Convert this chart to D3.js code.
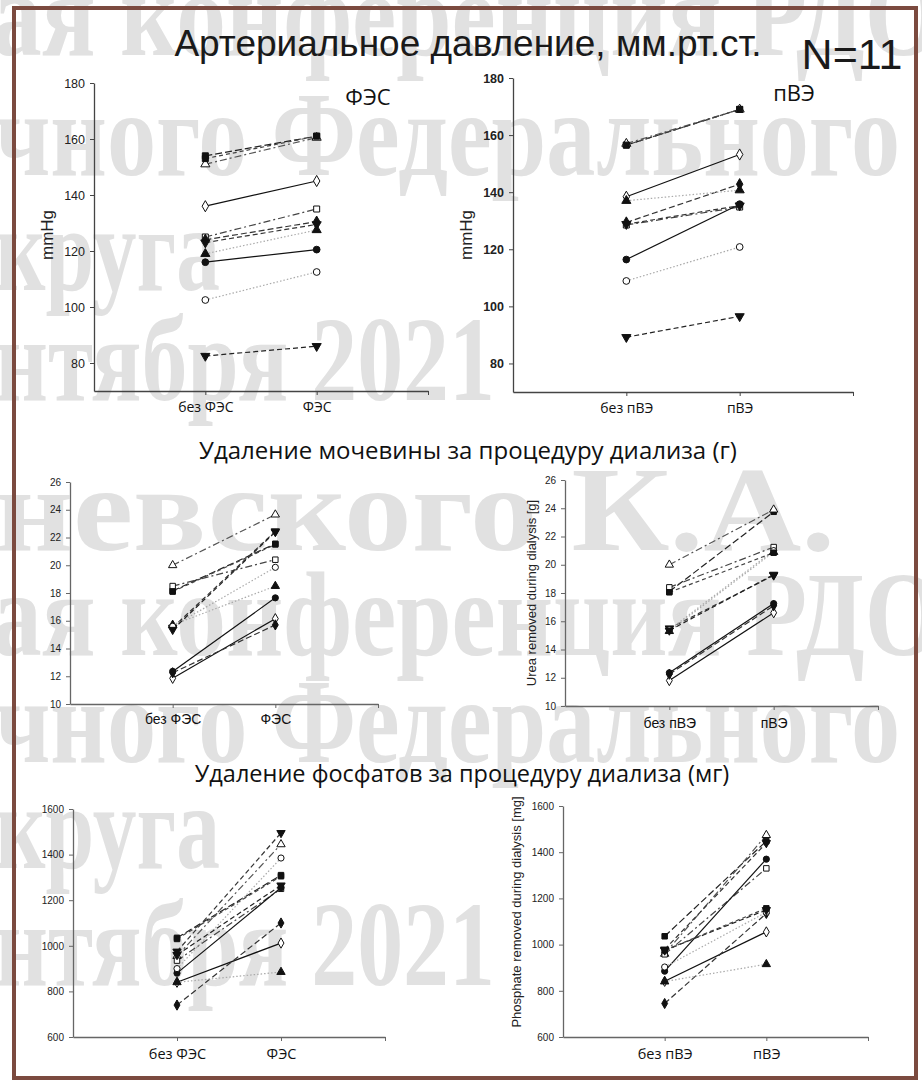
<!DOCTYPE html>
<html>
<head>
<meta charset="utf-8">
<script src="https://cdn.jsdelivr.net/npm/d3@7"></script>
<style>
  body { margin: 0; background: #fff; }
  svg { display: block; }
</style>
</head>
<body>
<div id="chart"></div>
<script>
/**
 * CONSTANTS AND GLOBALS
 * */
const width = 922,
  height = 1081;

// watermark text rows (only the visible tails of the lines)
const watermarkRows = [
  "ая конференция РДО",
  "чного Федерального",
  "круга",
  "нтября 2021",
  "невского К.А.",
  "ая конференция РДО",
  "чного Федерального",
  "круга",
  "нтября 2021"
];

// titles
const mainTitle = "Артериальное давление, мм.рт.ст.";
const sampleSize = "N=11";
const ureaTitle = "Удаление мочевины за процедуру диализа (г)";
const phosTitle = "Удаление фосфатов за процедуру диализа (мг)";

// categories
const groupsFES = ["без ФЭС", "ФЭС"];
const groupsPVE = ["без пВЭ", "пВЭ"];

// tick values
const bpTicks = [80, 100, 120, 140, 160, 180];
const ureaTicks = [10, 12, 14, 16, 18, 20, 22, 24, 26];
const phosTicks = [600, 800, 1000, 1200, 1400, 1600];

// 11 patients, same order in every array
const bpFesBefore = [154, 151, 136, 125, 124, 123, 119, 116, 102.5, 82.5, 153];
const bpFesAfter = [161, 160.5, 145, 135, 130.5, 129.5, 127.5, 120.5, 112.5, 86, 161];

const bpPveBefore = [156.5, 157, 138.4, 128.5, 129.4, 128.8, 137, 116.4, 108.9, 89.2, 156.5];
const bpPveAfter = [169, 169, 153.2, 134.8, 142.8, 135.3, 140.7, 135.8, 120.8, 96.5, 169];

const ureaFesBefore = [18.15, 20, 11.85, 18.5, 12.25, 15.5, 15.7, 12.35, 15.6, 15.35, 18.1];
const ureaFesAfter = [21.55, 23.65, 16.15, 20.4, 15.7, 22.45, 18.5, 17.65, 19.85, 22.4, 21.5];

const ureaPveBefore = [18.1, 20, 11.8, 18.4, 12.25, 15.5, 15.3, 12.35, 15.4, 15.35, 18.05];
const ureaPveAfter = [23.75, 23.9, 16.6, 21.25, 17.1, 19.25, 20.9, 17.25, 21, 19.3, 20.85];

const phosFesBefore = [1035, 955, 840, 935, 740, 975, 840, 880, 900, 960, 1030];
const phosFesAfter = [1310, 1445, 1012, 1250, 1100, 1495, 885, 1255, 1385, 1265, 1305];

const phosPveBefore = [1036, 960, 841, 958, 745, 979, 840, 885, 903, 975, 975];
const phosPveAfter = [1448, 1474, 1055, 1330, 1135, 1440, 915, 1370, 1140, 1150, 1157];

// marker / line style for each patient
const patientStyle = [
  { symbol: "square", fill: true, dash: "7,3", stroke: "#222" },
  { symbol: "triangle", fill: false, dash: "7,3,2,3", stroke: "#555" },
  { symbol: "diamond", fill: false, dash: null, stroke: "#111" },
  { symbol: "square", fill: false, dash: "7,3,2,3", stroke: "#444" },
  { symbol: "diamond", fill: true, dash: "6,3", stroke: "#333" },
  { symbol: "triangleDown", fill: true, dash: "5,3", stroke: "#333" },
  { symbol: "triangle", fill: true, dash: "1.5,2", stroke: "#aaa" },
  { symbol: "circle", fill: true, dash: null, stroke: "#111" },
  { symbol: "circle", fill: false, dash: "1.5,2", stroke: "#aaa" },
  { symbol: "triangleDown", fill: true, dash: "5,3", stroke: "#222" },
  { symbol: "square", fill: true, dash: "4,3", stroke: "#444" }
];

const symbolTypes = {
  square: d3.symbolSquare,
  triangle: d3.symbolTriangle,
  triangleDown: d3.symbolTriangle,
  diamond: d3.symbolDiamond,
  circle: d3.symbolCircle
};

/**
 * PANEL LAYOUT
 * */
const panels = [
  {
    before: bpFesBefore, after: bpFesAfter, groups: groupsFES,
    domain: [70, 180], ticks: bpTicks,
    x0: 94, x1: 428, yBottom: 391, yTop: 83,
    tickFont: "12.5px 'Liberation Sans', Arial, sans-serif",
    catFont: "14px 'Open Sans', sans-serif", catDy: 21,
    axisColor: "#444", msize: 36,
    yLabel: "mmHg", yLabelX: 53, yLabelY: 235,
    yLabelFont: "17px 'Liberation Sans', Arial, sans-serif",
    tag: "ФЭС", tagX: 368, tagY: 105
  },
  {
    before: bpPveBefore, after: bpPveAfter, groups: groupsPVE,
    domain: [70, 180], ticks: bpTicks,
    x0: 513, x1: 853, yBottom: 392, yTop: 78,
    tickFont: "bold 12.5px 'Liberation Sans Narrow', Arial, sans-serif",
    catFont: "14px 'Open Sans', sans-serif", catDy: 21,
    axisColor: "#444", msize: 36,
    yLabel: "mmHg", yLabelX: 472, yLabelY: 235,
    yLabelFont: "17px 'Liberation Sans', Arial, sans-serif",
    tag: "пВЭ", tagX: 794, tagY: 101
  },
  {
    before: ureaFesBefore, after: ureaFesAfter, groups: groupsFES,
    domain: [10, 26], ticks: ureaTicks,
    x0: 70, x1: 378, yBottom: 704, yTop: 482,
    tickFont: "10px 'Liberation Sans Narrow', Arial, sans-serif",
    catFont: "14px 'Liberation Sans Narrow', sans-serif", catDy: 20,
    axisColor: "#666", msize: 30
  },
  {
    before: ureaPveBefore, after: ureaPveAfter, groups: groupsPVE,
    domain: [10, 26], ticks: ureaTicks,
    x0: 565, x1: 878, yBottom: 706, yTop: 480,
    tickFont: "10px 'Liberation Sans Narrow', Arial, sans-serif",
    catFont: "14px 'Liberation Sans Narrow', sans-serif", catDy: 22,
    axisColor: "#666", msize: 30,
    yLabel: "Urea removed during dialysis [g]", yLabelX: 536, yLabelY: 593,
    yLabelFont: "13px 'Liberation Sans', Arial, sans-serif"
  },
  {
    before: phosFesBefore, after: phosFesAfter, groups: groupsFES,
    domain: [600, 1600], ticks: phosTicks,
    x0: 73, x1: 385, yBottom: 1037, yTop: 809,
    tickFont: "10px 'Liberation Sans Narrow', Arial, sans-serif",
    catFont: "14.5px 'Open Sans', sans-serif", catDy: 22,
    axisColor: "#666", msize: 30
  },
  {
    before: phosPveBefore, after: phosPveAfter, groups: groupsPVE,
    domain: [600, 1600], ticks: phosTicks,
    x0: 563, x1: 868, yBottom: 1037, yTop: 806,
    tickFont: "10px 'Liberation Sans Narrow', Arial, sans-serif",
    catFont: "14.5px 'Open Sans', sans-serif", catDy: 22,
    axisColor: "#666", msize: 30,
    yLabel: "Phosphate removed during dialysis [mg]", yLabelX: 521, yLabelY: 912,
    yLabelFont: "13px 'Liberation Sans', Arial, sans-serif"
  }
];

// where each watermark row sits: [x, baseline, length]
const watermarkPos = [
  [-8, 55, 950], [-5, 175, 905], [-5, 290, 225], [-5, 400, 500], [-5, 550, 840],
  [-8, 655, 950], [-5, 762, 905], [-5, 868, 225], [-5, 985, 500]
];

let svg;

/**
 * INIT
 * */
function init() {
  svg = d3.select("#chart")
    .append("svg")
    .attr("width", width)
    .attr("height", height);

  svg.append("rect")
    .attr("width", width)
    .attr("height", height)
    .attr("fill", "#fff");

  // watermark behind everything
  svg.append("g")
    .attr("class", "watermark")
    .selectAll("text")
    .data(watermarkRows)
    .join("text")
    .attr("x", (d, i) => watermarkPos[i][0])
    .attr("y", (d, i) => watermarkPos[i][1])
    .attr("textLength", (d, i) => watermarkPos[i][2])
    .attr("lengthAdjust", "spacingAndGlyphs")
    .style("font", "bold 120px 'Liberation Serif', 'DejaVu Serif', serif")
    .attr("fill", "#e1e1e1")
    .text(d => d);

  // frame
  svg.append("rect")
    .attr("x", 14)
    .attr("y", 8)
    .attr("width", 902)
    .attr("height", 1070)
    .attr("fill", "none")
    .attr("stroke", "#7b4a3f")
    .attr("stroke-width", 4);

  // titles
  svg.append("text")
    .attr("x", 468)
    .attr("y", 56)
    .attr("text-anchor", "middle")
    .style("font", "37px 'Liberation Sans Narrow', 'Liberation Sans', sans-serif")
    .attr("fill", "#1a1a1a")
    .text(mainTitle);

  svg.append("text")
    .attr("x", 852)
    .attr("y", 69)
    .attr("text-anchor", "middle")
    .style("font", "43px 'Liberation Sans', Arial, sans-serif")
    .attr("fill", "#1a1a1a")
    .text(sampleSize);

  svg.append("text")
    .attr("x", 468)
    .attr("y", 459)
    .attr("text-anchor", "middle")
    .style("font", "24px 'Open Sans', sans-serif")
    .attr("fill", "#111")
    .text(ureaTitle);

  svg.append("text")
    .attr("x", 462)
    .attr("y", 782)
    .attr("text-anchor", "middle")
    .style("font", "23.5px 'Open Sans', sans-serif")
    .attr("fill", "#111")
    .text(phosTitle);

  panels.forEach(drawPanel);
}

/**
 * DRAW ONE PANEL
 * */
function drawPanel(p) {
  const g = svg.append("g").attr("class", "panel");

  // positions 1 and 2 are the two categories, 3 is the end of the axis
  const xScale = d3.scaleLinear().domain([0, 3]).range([p.x0, p.x1]);
  const yScale = d3.scaleLinear().domain(p.domain).range([p.yBottom, p.yTop]);

  const yAxis = d3.axisLeft(yScale)
    .tickValues(p.ticks)
    .tickFormat(d3.format("d"))
    .tickSize(4)
    .tickSizeOuter(0)
    .tickPadding(5);

  const xAxis = d3.axisBottom(xScale)
    .tickValues([1, 2, 3])
    .tickFormat(i => p.groups[i - 1] || "")
    .tickSize(4)
    .tickSizeOuter(0);

  const ya = g.append("g")
    .attr("transform", `translate(${p.x0},0)`)
    .call(yAxis);
  ya.select(".domain").attr("stroke", p.axisColor).attr("stroke-width", 1.3);
  ya.selectAll(".tick line").attr("stroke", p.axisColor);
  ya.selectAll(".tick text").style("font", p.tickFont).attr("fill", "#222");

  const xa = g.append("g")
    .attr("transform", `translate(0,${p.yBottom})`)
    .call(xAxis);
  xa.select(".domain").attr("stroke", p.axisColor).attr("stroke-width", 1.3);
  xa.selectAll(".tick line").attr("stroke", p.axisColor);
  xa.selectAll(".tick text")
    .style("font", p.catFont)
    .attr("y", p.catDy)
    .attr("dy", 0)
    .attr("fill", "#111");

  // axis labels
  if (p.yLabel) {
    g.append("text")
      .attr("transform", `translate(${p.yLabelX},${p.yLabelY}) rotate(-90)`)
      .attr("text-anchor", "middle")
      .style("font", p.yLabelFont)
      .attr("fill", "#222")
      .text(p.yLabel);
  }
  if (p.tag) {
    g.append("text")
      .attr("x", p.tagX)
      .attr("y", p.tagY)
      .attr("text-anchor", "middle")
      .style("font", "22px 'Open Sans', sans-serif")
      .attr("fill", "#111")
      .text(p.tag);
  }

  const rows = p.before.map((b, i) => ({ i, values: [b, p.after[i]] }));

  // slope lines
  const lineFunc = d3.line()
    .x((d, k) => xScale(k + 1))
    .y(d => yScale(d));

  g.selectAll("path.slope")
    .data(rows)
    .join("path")
    .attr("class", "slope")
    .attr("fill", "none")
    .attr("stroke", d => patientStyle[d.i].stroke)
    .attr("stroke-width", 1.2)
    .attr("stroke-dasharray", d => patientStyle[d.i].dash)
    .attr("d", d => lineFunc(d.values));

  // markers
  const pts = rows.flatMap(r => r.values.map((v, k) => ({ i: r.i, k, v })));
  g.selectAll("path.marker")
    .data(pts)
    .join("path")
    .attr("class", "marker")
    .attr("d", d => d3.symbol(symbolTypes[patientStyle[d.i].symbol], p.msize)())
    .attr("transform", d => {
      const st = patientStyle[d.i].symbol;
      const rot = st === "triangleDown" ? " rotate(180)" : "";
      return `translate(${xScale(d.k + 1)},${yScale(d.v)})${rot}`;
    })
    .attr("fill", d => patientStyle[d.i].fill ? "#111" : "#fff")
    .attr("stroke", "#111")
    .attr("stroke-width", 1);
}

init();
</script>
</body>
</html>
